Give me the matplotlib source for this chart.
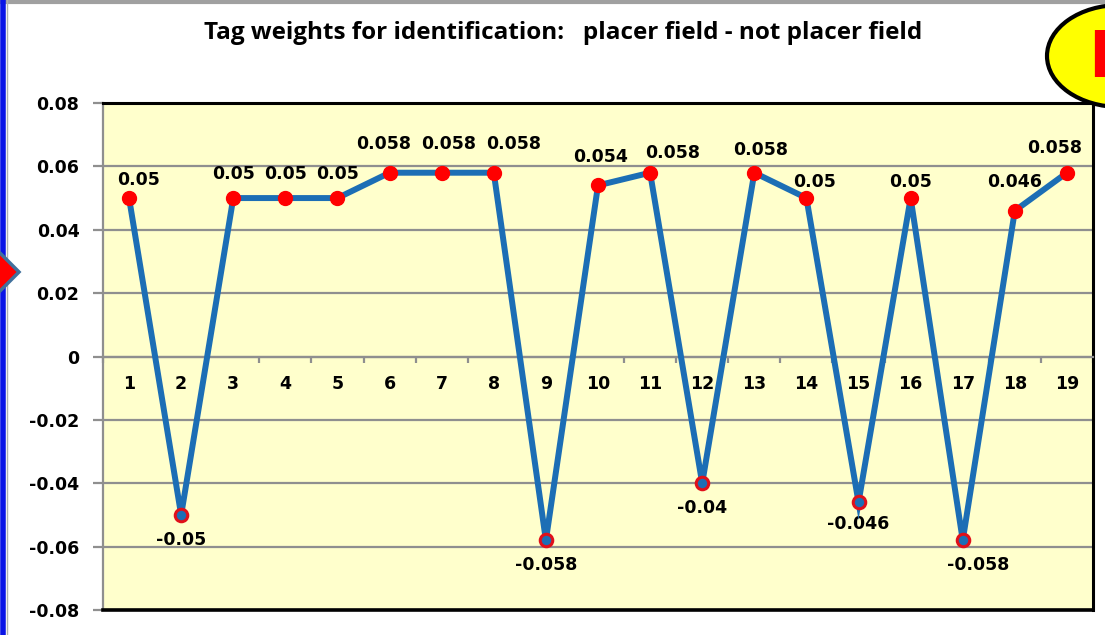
import numpy as np
import matplotlib.pyplot as plt
from matplotlib.patches import Ellipse, Polygon
from matplotlib.ticker import MultipleLocator

plt.rcParams["font.family"] = ["DejaVu Sans"]
plt.rcParams["font.weight"] = "bold"

# tag weights, tags 1..19
tags = list(range(1, 20))
weights = [0.05, -0.05, 0.05, 0.05, 0.05, 0.058, 0.058, 0.058, -0.058, 0.054,
           0.058, -0.04, 0.058, 0.05, -0.046, 0.05, -0.058, 0.046, 0.058]
title = "Tag weights for identification:   placer field - not placer field"
yticks = [-0.08, -0.06, -0.04, -0.02, 0, 0.02, 0.04, 0.06, 0.08]

# label nudges in pixels (dx, dy)
label_nudge = [(10, 18), (0, -25), (0, 24), (0, 24), (0, 24), (-6, 29), (7, 29),
               (20, 29), (0, -25), (3, 28), (23, 20), (0, -25), (6, 23), (8, 16),
               (0, -22), (0, 16), (15, -25), (0, 29), (-12, 25)]

W, H = 1105, 635
fig = plt.figure(figsize=(W / 100, H / 100), dpi=100)
fig.patch.set_facecolor("white")

ax = fig.add_axes([103 / W, (H - 610) / H, 990 / W, 507 / H])
ax.set_facecolor("#FFFFCC")

# category axis sits on y = 0; set spines first since moving them resets ticks
grid_c = "#8F8F8F"
ax.spines["bottom"].set_position(("data", 0))
ax.spines["bottom"].set_color(grid_c)
ax.spines["bottom"].set_linewidth(1.6)
ax.spines["left"].set_color(grid_c)
ax.spines["left"].set_linewidth(1.6)
for s in ("top", "right"):
    ax.spines[s].set_color("black")
    ax.spines[s].set_linewidth(2.2)

ax.set_xlim(0.5, 19.5)
ax.set_ylim(-0.08, 0.08)

fs = 12.5
ax.set_yticks(yticks)
ax.set_yticklabels(["0" if v == 0 else f"{v:.2f}" for v in yticks])
ax.yaxis.grid(True, color=grid_c, lw=1.6, zorder=1)
ax.set_axisbelow(True)
ax.tick_params(axis="y", length=7, width=1.6, color=grid_c, pad=10, labelsize=fs)

ax.set_xticks(tags)
ax.set_xticklabels([str(t) for t in tags])
ax.xaxis.set_minor_locator(MultipleLocator(1, offset=0.5))
ax.tick_params(axis="x", which="major", length=0, pad=13, labelsize=fs)
ax.tick_params(axis="x", which="minor", length=4, width=1.6, color=grid_c, direction="out")

ax.axhline(-0.08, color="black", lw=2.6, clip_on=False, zorder=3)

x = np.array(tags)
y = np.array(weights)
ax.plot(x, y, color="#1C6EB5", lw=4.3, zorder=4, solid_joinstyle="miter")
pos = y > 0
ax.plot(x[pos], y[pos], "o", ms=10, color="#FF0000", mec="#FF0000", zorder=5)
ax.plot(x[~pos], y[~pos], "o", ms=9, mfc="#1C6EB5", mec="#E0101A", mew=2.2, zorder=5)

for xi, yi, (dx, dy) in zip(x, y, label_nudge):
    ax.annotate(f"{yi:g}", (xi, yi), xytext=(dx * 0.72, dy * 0.72),
                textcoords="offset points", ha="center", va="center",
                fontsize=fs, fontweight="bold")

fig.text(563 / W, 1 - 33 / H, title, ha="center", va="center",
         fontsize=17.5, fontweight="bold", family=["Open Sans", "DejaVu Sans"])

# frame decorations around the slide
fig.add_artist(plt.Line2D([0, 1], [1 - 1.5 / H] * 2, color="#A0A0A0", lw=3,
                          transform=fig.transFigure))
fig.add_artist(plt.Line2D([2.5 / W] * 2, [0, 1], color="#0A14E6", lw=4,
                          transform=fig.transFigure))
fig.add_artist(plt.Line2D([6.5 / W] * 2, [0, 1], color="#B0B0B0", lw=1,
                          transform=fig.transFigure))
arrow = Polygon([(-25 / W, 1 - 228 / H), (19 / W, 1 - 272 / H), (-25 / W, 1 - 316 / H)],
                closed=True, facecolor="#FF0000", edgecolor="#41719C", lw=2.5,
                transform=fig.transFigure, zorder=6)
fig.add_artist(arrow)

badge = Ellipse((1120 / W, 1 - 56 / H), 146 / W, 102 / H, facecolor="#FFFF00",
                edgecolor="black", lw=3, transform=fig.transFigure, zorder=10)
fig.add_artist(badge)
fig.text(1088 / W, 1 - 59 / H, "D", color="#FF0000", fontsize=46,
         fontweight="bold", ha="left", va="center", zorder=11)

fig.savefig("out.png", dpi=100)
